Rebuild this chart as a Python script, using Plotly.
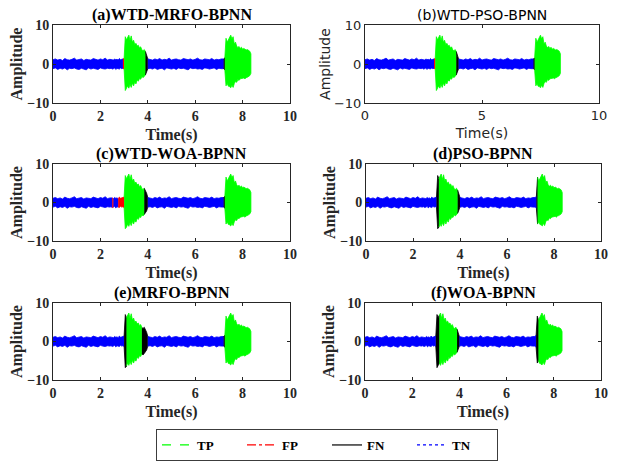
import numpy as np
import plotly.graph_objects as go

# ---------------- data ----------------
time_s = [0.0, 0.1, 0.2, 0.3, 0.4, 0.5, 0.6, 0.7, 0.8, 0.9, 1.0, 1.1, 1.2, 1.3, 1.4, 1.5,
          1.6, 1.7, 1.8, 1.9, 2.0, 2.1, 2.2, 2.3, 2.4,
          2.45, 2.5, 2.55, 2.6, 2.65, 2.7, 2.75, 2.8, 2.85, 2.9, 2.95,
          3.0, 3.05, 3.1, 3.15, 3.2, 3.25, 3.3, 3.35, 3.4, 3.45, 3.5, 3.55, 3.6, 3.65,
          3.7, 3.75, 3.8, 3.85, 3.9, 3.95, 4.0,
          4.1, 4.2, 4.3, 4.4, 4.5, 4.6, 4.7, 4.8, 4.9, 5.0, 5.1, 5.2, 5.3, 5.4, 5.5,
          5.6, 5.7, 5.8, 5.9, 6.0, 6.1, 6.2, 6.3, 6.4, 6.5, 6.6, 6.7, 6.8, 6.9, 7.0, 7.1,
          7.15, 7.2, 7.25, 7.3, 7.35, 7.4, 7.45, 7.5, 7.55, 7.6, 7.65, 7.7, 7.75, 7.8,
          7.85, 7.9, 7.95, 8.0, 8.05, 8.1, 8.15, 8.2, 8.25, 8.3, 8.35]

env_upper = [1.1, 1.3, 1.0, 1.2, 0.9, 1.4, 1.1, 1.0, 1.2, 1.5, 1.0, 1.1, 1.3, 0.9, 1.2, 1.1,
             1.0, 1.4, 1.2, 1.0, 1.3, 1.1, 1.5, 1.0, 1.2,
             1.1, 1.2, 1.0, 1.3, 1.1, 1.2, 1.0, 1.4, 1.1, 1.2, 1.3,
             1.4, 7.0, 6.2, 6.8, 7.4, 6.0, 7.2, 5.6, 6.1, 5.0, 5.3, 4.6, 4.8, 4.1,
             4.4, 3.6, 3.4, 3.7, 3.2, 2.4, 1.3,
             1.2, 1.0, 1.3, 1.1, 1.4, 1.0, 1.2, 1.1, 1.5, 1.0, 1.2, 1.3, 1.1, 1.0, 1.4,
             1.2, 1.1, 1.3, 1.0, 1.2, 1.5, 1.1, 1.0, 1.3, 1.2, 1.1, 1.4, 1.0, 1.2, 1.1, 1.3,
             1.2, 1.3, 1.6, 6.6, 5.6, 6.2, 6.9, 7.4, 6.4, 7.0, 5.1, 5.6, 4.6, 4.2,
             4.5, 4.0, 4.3, 3.8, 4.0, 3.8, 3.6, 3.7, 3.5, 3.3, 2.6]

env_lower = [-1.2, -1.0, -1.4, -1.1, -1.3, -1.0, -1.5, -1.1, -1.2, -1.0, -1.3, -1.4, -1.1, -1.2, -1.5, -1.0,
             -1.3, -1.1, -1.2, -1.4, -1.0, -1.2, -1.3, -1.1, -1.2,
             -1.1, -1.3, -1.2, -1.0, -1.4, -1.1, -1.2, -1.3, -1.0, -1.2, -1.1,
             -1.3, -6.8, -6.4, -5.6, -6.2, -5.2, -6.0, -4.9, -5.6, -4.6, -5.1, -4.1, -4.4, -3.7,
             -3.9, -3.2, -3.5, -3.1, -2.8, -2.2, -1.2,
             -1.1, -1.3, -1.0, -1.4, -1.2, -1.1, -1.5, -1.0, -1.2, -1.3, -1.1, -1.4, -1.0, -1.2, -1.1,
             -1.3, -1.5, -1.0, -1.2, -1.1, -1.3, -1.2, -1.4, -1.0, -1.1, -1.3, -1.2, -1.0, -1.4, -1.1, -1.2,
             -1.1, -1.2, -1.5, -5.6, -5.0, -5.7, -5.8, -6.1, -5.4, -6.0, -5.0, -4.5, -4.7, -4.0,
             -4.2, -3.8, -3.9, -3.7, -3.6, -3.8, -3.5, -3.4, -3.3, -3.0, -2.4]

panel_titles = ["(a)WTD-MRFO-BPNN", "(b)WTD-PSO-BPNN", "(c)WTD-WOA-BPNN",
                "(d)PSO-BPNN", "(e)MRFO-BPNN", "(f)WOA-BPNN"]

# classification segments per panel: class, start (s), end (s)
seg_class_a = ["TN", "FP", "TP", "FN", "TN", "FN", "TP"]
seg_start_a = [0.0, 2.95, 3.0, 3.9, 4.0, 7.2, 7.25]
seg_end_a = [2.95, 3.0, 3.9, 4.0, 7.2, 7.25, 8.35]

seg_class_b = ["TN", "FP", "TP", "FN", "TN", "FN", "TP"]
seg_start_b = [0.0, 2.95, 3.0, 3.9, 4.0, 7.2, 7.25]
seg_end_b = [2.95, 3.0, 3.9, 4.0, 7.2, 7.25, 8.35]

seg_class_c = ["TN", "FP", "TN", "FP", "TP", "FN", "TN", "FN", "TP"]
seg_start_c = [0.0, 2.5, 2.55, 2.75, 3.0, 3.85, 4.0, 7.2, 7.25]
seg_end_c = [2.5, 2.55, 2.75, 3.0, 3.85, 4.0, 7.2, 7.25, 8.35]

seg_class_d = ["TN", "FN", "TP", "FN", "TN", "FN", "TP"]
seg_start_d = [0.0, 3.0, 3.1, 3.9, 4.0, 7.25, 7.3]
seg_end_d = [3.0, 3.1, 3.9, 4.0, 7.25, 7.3, 8.35]

seg_class_e = ["TN", "FN", "TP", "FN", "TN", "FN", "TP"]
seg_start_e = [0.0, 3.0, 3.1, 3.75, 4.0, 7.2, 7.25]
seg_end_e = [3.0, 3.1, 3.75, 4.0, 7.2, 7.25, 8.35]

seg_class_f = ["TN", "FN", "TP", "FN", "TN", "FN", "TP"]
seg_start_f = [0.0, 3.0, 3.15, 3.9, 4.0, 7.25, 7.35]
seg_end_f = [3.0, 3.15, 3.9, 4.0, 7.25, 7.35, 8.35]

x_ticks_main = [0, 2, 4, 6, 8, 10]
x_ticks_b = [0, 5, 10]
y_ticks = [-10, 0, 10]
legend_names = ["TP", "FP", "FN", "TN"]

# ---------------- styling ----------------
class_color = {"TP": "#00FF00", "FP": "#FF0000", "FN": "#000000", "TN": "#0000FF"}
class_dash = {"TP": "dash", "FP": "dashdot", "FN": "solid", "TN": "dot"}

W, H = 622, 462
# pixel boxes (left, right, top, bottom) of each axes
boxes = [(53, 290, 25, 103), (365, 599, 25, 103),
         (53, 290, 164, 241), (366, 601, 164, 241),
         (53, 290, 303, 380), (365, 601, 303, 380)]

segments = [(seg_class_a, seg_start_a, seg_end_a), (seg_class_b, seg_start_b, seg_end_b),
            (seg_class_c, seg_start_c, seg_end_c), (seg_class_d, seg_start_d, seg_end_d),
            (seg_class_e, seg_start_e, seg_end_e), (seg_class_f, seg_start_f, seg_end_f)]

t_arr = np.array(time_s)
up_arr = np.array(env_upper)
lo_arr = np.array(env_lower)

SERIF = "Liberation Serif"
SANS = "DejaVu Sans"
AXC = "#262626"

fig = go.Figure()
layout = dict(width=W, height=H, margin=dict(l=0, r=0, t=0, b=0),
              paper_bgcolor="white", plot_bgcolor="white", showlegend=True)
annotations = []

for i, (box, (cls, s0, s1)) in enumerate(zip(boxes, segments)):
    n = i + 1
    xa = "x" if n == 1 else f"x{n}"
    ya = "y" if n == 1 else f"y{n}"
    for c, a, b in zip(cls, s0, s1):
        m = (t_arr >= a - 1e-9) & (t_arr <= b + 1e-9)
        tt = t_arr[m]
        xs = np.concatenate([tt, tt[::-1]])
        ys = np.concatenate([up_arr[m], lo_arr[m][::-1]])
        fig.add_trace(go.Scatter(x=xs, y=ys, mode="lines", fill="toself",
                                 fillcolor=class_color[c],
                                 line=dict(color=class_color[c], width=0.8),
                                 xaxis=xa, yaxis=ya, showlegend=False, hoverinfo="skip"))
    l, r, t, bt = box
    sans = (n == 2)
    fam = SANS if sans else SERIF
    wt = "normal" if sans else "bold"
    tick_size = 13 if sans else 14
    lab_size = 14 if sans else 16
    common = dict(showline=True, linecolor=AXC, linewidth=1, mirror="allticks",
                  ticks="inside", ticklen=3, tickcolor=AXC, showgrid=False, zeroline=False,
                  automargin=False,
                  tickfont=dict(family=fam, size=tick_size, color=AXC, weight=wt))
    xkey = "xaxis" if n == 1 else f"xaxis{n}"
    ykey = "yaxis" if n == 1 else f"yaxis{n}"
    layout[xkey] = dict(common, domain=[l / W, r / W], range=[0, 10], anchor=ya,
                        tickvals=x_ticks_b if sans else x_ticks_main,
                        title=dict(text="Time(s)", standoff=6,
                                   font=dict(family=fam, size=lab_size, color=AXC, weight=wt)))
    layout[ykey] = dict(common, domain=[1 - bt / H, 1 - t / H], range=[-10, 10], anchor=xa,
                        tickvals=y_ticks,
                        title=dict(text="Amplitude", standoff=0,
                                   font=dict(family=fam, size=lab_size, color=AXC, weight=wt)))
    annotations.append(dict(text=panel_titles[i], xref="paper", yref="paper",
                            x=(l + r) / 2 / W, y=1 - (t - 10) / H, showarrow=False,
                            xanchor="center", yanchor="middle",
                            font=dict(family=fam, size=lab_size if not sans else 14,
                                      color="black", weight=wt)))

for name in legend_names:
    fig.add_trace(go.Scatter(x=[None], y=[None], mode="lines", name=name,
                             line=dict(color=class_color[name], dash=class_dash[name], width=1.2)))

layout["annotations"] = annotations
layout["legend"] = dict(orientation="h", x=327 / W, xanchor="center", y=1 - 461 / H, yanchor="bottom",
                        bordercolor="#3c3c3c", borderwidth=1, bgcolor="white",
                        font=dict(family=SERIF, size=13, color="black", weight="bold"),
                        entrywidth=40, entrywidthmode="pixels", tracegroupgap=0,
                        itemwidth=30)
fig.update_layout(**layout)
fig.write_html("out.html", config={"displayModeBar": False},
               post_script="document.body.style.margin='0';")
